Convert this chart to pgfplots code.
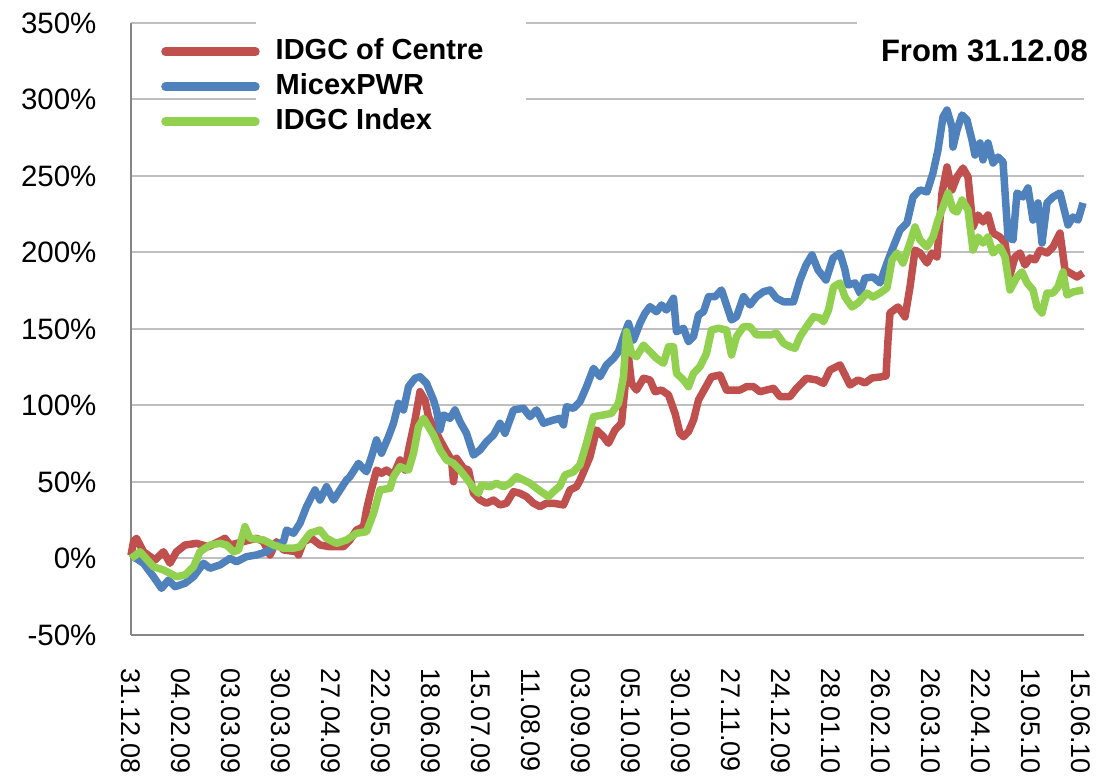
\documentclass[border=0pt]{standalone}
\usepackage{fontspec}
\setmainfont{Liberation Sans}
\usepackage{pgfplots}
\pgfplotsset{compat=1.18}
\definecolor{idgcred}{HTML}{C0504D}
\definecolor{micexblue}{HTML}{4F81BD}
\definecolor{indexgreen}{HTML}{92D050}
\definecolor{gridgray}{HTML}{BFBFBF}
\definecolor{axisgray}{HTML}{868686}

\begin{document}
\begin{tikzpicture}
\useasboundingbox (0,0) rectangle (1098pt,778pt);
\begin{axis}[
    at={(131pt,143pt)}, anchor=south west,
    scale only axis, width=953pt, height=612pt,
    xmin=0, xmax=19.06, ymin=-50, ymax=350,
    axis lines=left,
    axis line style={-, axisgray, line width=2pt},
    major tick length=0pt,
    ymajorgrids, grid style={gridgray, line width=2pt},
    ytick={-50,0,50,100,150,200,250,300,350},
    yticklabels={-50\%,0\%,50\%,100\%,150\%,200\%,250\%,300\%,350\%},
    xtick={0,1,...,19},
    xticklabels={31.12.08,04.02.09,03.03.09,30.03.09,27.04.09,22.05.09,18.06.09,15.07.09,11.08.09,03.09.09,05.10.09,30.10.09,27.11.09,24.12.09,28.01.10,26.02.10,26.03.10,22.04.10,19.05.10,15.06.10},
    /pgf/number format/assume math mode=true,
    yticklabel style={font=\fontsize{29.5}{29.5}\selectfont, xshift=-31pt},
    xticklabel style={font=\fontsize{27}{27}\selectfont, rotate=-90, anchor=west, xshift=30pt},
    clip=false,
    legend style={at={(0.0315,0.9755)}, anchor=north west, draw=none, fill=none,
        inner sep=0pt, row sep=8pt, column sep=16pt,
        font=\fontsize{29}{29}\selectfont\bfseries,
        nodes={inner sep=0pt, text height=21pt, text depth=6pt}},
    legend cell align=left,
    legend image code/.code={\draw[#1, line width=8.5pt, line cap=round] (0pt,0pt) -- (90pt,0pt);},
    every axis plot/.append style={line width=7.5pt, line join=round, no marks},
]
% white patches behind legend and note
\fill[white] (axis cs:2.5,273) rectangle (axis cs:7.9,362);
\fill[white] (axis cs:14.52,312) rectangle (axis cs:19.4,356);

% IDGC of Centre
\addplot[idgcred] coordinates {
(0,2) (0.05,11.0) (0.11,13.2) (0.25,4.4) (0.48,-1.0) (0.65,4.4) (0.78,-3.1) (0.91,4.4)
(1.08,8.8) (1.31,9.9) (1.55,7.7) (1.75,11.0) (1.88,13.2) (1.98,8.8) (2.38,12.1) (2.51,13.2)
(2.65,11.0) (2.78,2.3) (2.91,11.0) (3.05,5.6) (3.31,4.4) (3.35,2.3) (3.45,11.0) (3.61,13.2)
(3.78,8.8) (3.98,7.7) (4.25,7.7) (4.38,12.1) (4.51,18.6) (4.65,20.8) (4.71,31.7) (4.78,41.5)
(4.91,57.8) (5.01,55.7) (5.11,57.8) (5.25,54.6) (5.38,64.4) (5.48,57.8) (5.55,70.9) (5.68,90.5)
(5.78,109.0) (5.88,103.5) (5.95,92.7) (6.05,86.1) (6.18,77.5) (6.31,69.8) (6.41,64.4) (6.45,50.2)
(6.51,65.5) (6.65,59.0) (6.75,57.8) (6.85,42.6) (6.98,38.2) (7.11,36.1) (7.25,38.2) (7.38,35.0)
(7.51,36.1) (7.65,43.7) (7.78,42.6) (7.91,40.4) (8.05,36.1) (8.18,33.9) (8.31,36.1) (8.45,36.1)
(8.65,35.0) (8.78,44.8) (8.91,46.9) (8.98,51.1) (9.18,66.5) (9.31,84.0) (9.45,79.6) (9.55,75.3)
(9.68,84.0) (9.81,88.4) (9.88,112.3) (9.95,131.9) (10.01,114.5) (10.11,110.1) (10.25,117.8) (10.38,116.7)
(10.48,109.0) (10.61,110.1) (10.75,106.9) (10.88,94.9) (10.98,81.8) (11.05,79.6) (11.15,82.9) (11.25,90.5)
(11.35,103.6) (11.48,111.2) (11.61,118.8) (11.78,119.9) (11.91,110.1) (12.05,110.1) (12.18,110.1) (12.31,112.3)
(12.45,112.3) (12.58,109.0) (12.71,110.1) (12.85,111.2) (12.98,105.8) (13.18,105.8) (13.31,111.2) (13.51,117.8)
(13.71,116.7) (13.85,114.5) (13.98,123.2) (14.18,126.5) (14.28,120.0) (14.38,113.4) (14.54,116.7) (14.68,114.7)
(14.82,118.0) (14.98,118.6) (15.10,119.3) (15.14,142.8) (15.18,160.5) (15.34,164.4) (15.48,157.9) (15.58,177.5)
(15.68,201.6) (15.78,199.7) (15.92,193.1) (16.02,199.7) (16.12,197.1) (16.22,238.9) (16.32,255.9) (16.42,240.9)
(16.52,249.4) (16.64,255.2) (16.74,249.4) (16.84,216.7) (16.94,224.5) (17.04,220.0) (17.14,224.5) (17.24,212.7)
(17.38,210.1) (17.48,206.2) (17.58,185.3) (17.68,197.1) (17.78,199.7) (17.88,191.8) (17.98,196.4) (18.08,195.1)
(18.18,201.6) (18.32,199.7) (18.44,203.6) (18.58,212.7) (18.68,188.6) (18.78,186.6) (18.92,184.0) (19.04,186.6)
};
\addlegendentry{IDGC of Centre}

% MicexPWR
\addplot[micexblue] coordinates {
(0,0) (0.05,1.2) (0.25,-3.1) (0.45,-11.9) (0.61,-19.5) (0.75,-14.1) (0.88,-18.4) (1.08,-16.2)
(1.25,-11.9) (1.45,-3.1) (1.58,-6.4) (1.78,-4.2) (1.98,0.1) (2.11,-2.1) (2.31,1.2) (2.51,2.3)
(2.71,4.4) (2.91,8.8) (3.05,11.0) (3.11,18.6) (3.25,16.5) (3.38,23.0) (3.51,33.9) (3.68,44.8)
(3.78,38.2) (3.91,46.9) (4.05,38.2) (4.18,44.8) (4.31,51.3) (4.38,53.5) (4.55,62.2) (4.61,60.0)
(4.71,56.7) (4.81,66.5) (4.91,77.5) (5.01,68.8) (5.15,79.6) (5.25,88.4) (5.35,101.4) (5.45,97.1)
(5.55,112.3) (5.68,117.8) (5.78,118.8) (5.91,114.5) (6.05,103.6) (6.11,97.1) (6.18,84.0) (6.25,93.8)
(6.38,91.6) (6.48,97.1) (6.58,89.4) (6.71,81.8) (6.85,67.6) (6.98,70.9) (7.11,76.3) (7.25,80.7)
(7.38,88.4) (7.48,81.8) (7.65,97.1) (7.85,98.2) (7.98,92.7) (8.11,97.1) (8.25,88.4) (8.45,90.5)
(8.58,91.6) (8.65,87.3) (8.71,99.2) (8.85,98.2) (8.98,102.5) (9.11,112.3) (9.25,124.3) (9.38,118.8)
(9.51,126.5) (9.65,130.8) (9.75,135.2) (9.85,145.0) (9.95,153.7) (10.05,142.8) (10.18,153.7) (10.28,160.3)
(10.38,164.6) (10.51,161.3) (10.61,165.7) (10.71,162.4) (10.85,170.1) (10.91,148.2) (11.05,150.5) (11.15,141.7)
(11.25,145.0) (11.35,159.2) (11.45,161.3) (11.55,171.1) (11.68,171.1) (11.81,175.5) (11.91,165.7) (12.01,155.9)
(12.11,158.0) (12.25,171.1) (12.38,165.7) (12.51,171.1) (12.65,174.4) (12.78,175.5) (12.91,170.1) (13.05,167.8)
(13.25,167.8) (13.38,182.0) (13.50,191.8) (13.62,198.4) (13.74,188.6) (13.90,182.0) (14.04,196.4) (14.18,199.7)
(14.28,188.6) (14.34,178.8) (14.48,180.1) (14.58,173.5) (14.68,183.3) (14.84,184.0) (14.98,180.1) (15.12,193.1)
(15.22,201.6) (15.38,214.7) (15.52,219.3) (15.64,236.3) (15.78,240.9) (15.92,239.6) (16.04,252.0) (16.14,267.0)
(16.24,288.6) (16.32,293.1) (16.42,282.0) (16.44,268.9) (16.52,280.0) (16.62,289.9) (16.72,286.6) (16.82,273.5)
(16.88,263.7) (16.98,271.6) (17.04,260.5) (17.14,271.6) (17.24,258.5) (17.34,262.4) (17.44,259.2) (17.54,210.1)
(17.64,208.2) (17.72,238.9) (17.84,236.3) (17.94,242.2) (18.04,221.2) (18.14,232.4) (18.22,206.2) (18.32,232.4)
(18.44,236.3) (18.58,238.9) (18.68,225.8) (18.74,218.0) (18.84,223.2) (18.94,221.2) (19.04,232.4)
};
\addlegendentry{MicexPWR}

% IDGC Index
\addplot[indexgreen] coordinates {
(0,0) (0.18,4.4) (0.45,-5.4) (0.65,-7.5) (0.91,-11.9) (1.08,-10.8) (1.25,-5.4) (1.38,4.4)
(1.58,8.8) (1.78,9.9) (1.91,8.8) (2.05,4.4) (2.15,5.6) (2.28,20.8) (2.38,13.2) (2.65,12.1)
(2.85,8.8) (3.05,6.7) (3.25,6.7) (3.38,7.7) (3.58,16.5) (3.78,18.6) (3.91,13.2) (4.11,9.9)
(4.31,12.1) (4.51,16.5) (4.71,17.5) (4.85,29.5) (4.98,44.8) (5.18,45.9) (5.25,53.5) (5.38,60.0)
(5.55,57.8) (5.65,68.8) (5.75,86.1) (5.85,91.6) (5.95,86.1) (6.05,80.7) (6.18,70.9) (6.31,64.4)
(6.45,62.2) (6.58,57.8) (6.71,52.4) (6.85,45.9) (6.95,42.6) (7.01,48.0) (7.18,46.9) (7.31,49.2)
(7.45,46.9) (7.58,49.2) (7.71,53.5) (7.85,51.3) (7.98,49.2) (8.11,45.9) (8.25,42.6) (8.35,40.4)
(8.45,43.7) (8.58,47.4) (8.68,54.6) (8.84,56.5) (8.98,61.1) (9.11,75.3) (9.25,92.7) (9.45,93.8)
(9.61,94.9) (9.75,101.4) (9.85,118.8) (9.91,148.2) (10.01,134.1) (10.11,131.9) (10.25,139.5) (10.38,135.2)
(10.51,130.8) (10.65,127.6) (10.75,138.4) (10.85,138.4) (10.91,121.0) (11.05,116.7) (11.15,112.3) (11.25,121.0)
(11.38,125.4) (11.51,134.1) (11.61,149.3) (11.75,150.5) (11.91,149.3) (12.01,133.0) (12.11,145.0) (12.25,151.5)
(12.38,151.5) (12.51,146.1) (12.65,146.1) (12.78,146.1) (12.91,147.2) (13.05,140.7) (13.18,138.4) (13.28,137.4)
(13.38,145.0) (13.51,151.5) (13.65,158.0) (13.78,157.2) (13.85,154.8) (13.95,162.4) (14.05,177.6) (14.18,180.1)
(14.28,170.9) (14.42,164.4) (14.54,167.0) (14.72,173.5) (14.84,170.9) (14.98,173.5) (15.12,176.8) (15.22,195.1)
(15.32,199.7) (15.44,193.1) (15.58,206.2) (15.68,216.7) (15.78,208.2) (15.92,203.6) (16.04,210.1) (16.14,221.2)
(16.24,229.7) (16.34,238.9) (16.44,227.8) (16.52,226.5) (16.62,234.3) (16.74,227.8) (16.84,201.6) (16.94,210.1)
(17.04,206.2) (17.14,210.1) (17.24,199.7) (17.38,203.6) (17.48,197.1) (17.58,175.5) (17.72,184.0) (17.82,187.3)
(17.92,180.1) (18.04,175.5) (18.12,164.4) (18.22,160.5) (18.32,173.5) (18.44,173.5) (18.54,177.5) (18.64,187.3)
(18.72,172.2) (18.84,174.2) (19.04,175.5)
};
\addlegendentry{IDGC Index}

\node[anchor=east, inner sep=0pt, font=\fontsize{31}{31}\selectfont\bfseries]
    at (axis cs:19.14,331.7) {From 31.12.08};
\end{axis}
\end{tikzpicture}
\end{document}
